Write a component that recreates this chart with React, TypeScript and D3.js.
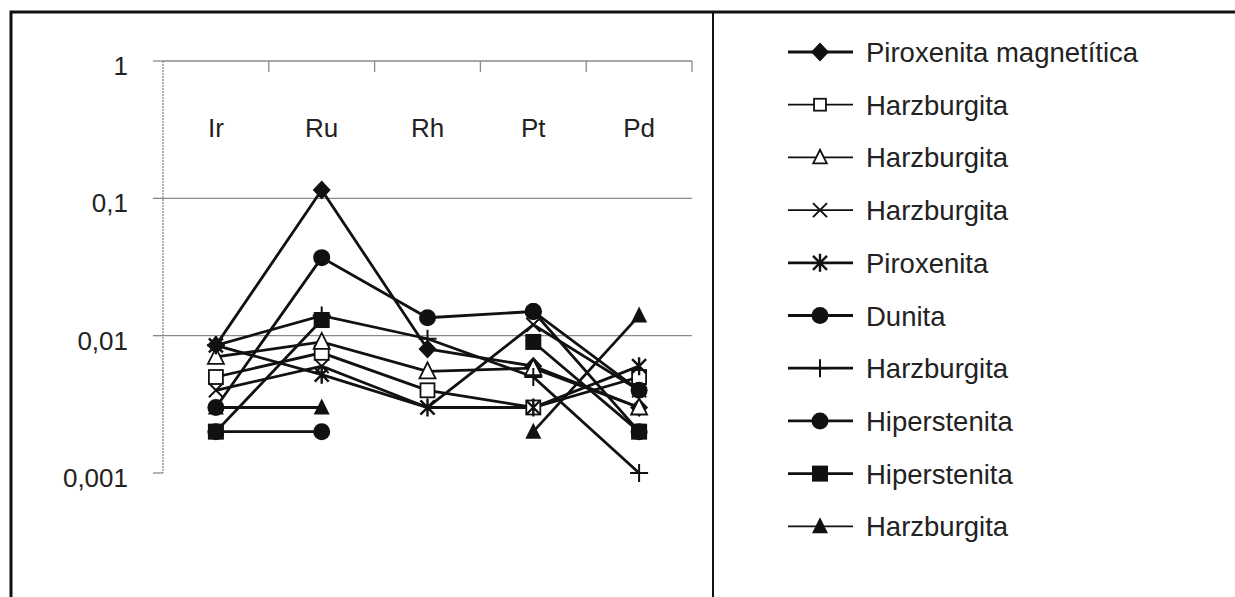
import React, { useEffect, useRef } from "react";
import * as d3 from "d3";

const elements = ["Ir", "Ru", "Rh", "Pt", "Pd"];
const yTicks = [1, 0.1, 0.01, 0.001];
const yTickLabels = ["1", "0,1", "0,01", "0,001"];

const seriesNames = [
  "Piroxenita magnetítica",
  "Harzburgita",
  "Harzburgita",
  "Harzburgita",
  "Piroxenita",
  "Dunita",
  "Harzburgita",
  "Hiperstenita",
  "Hiperstenita",
  "Harzburgita",
];
const markerKinds = ["diamond", "openSquare", "openTriangle", "times", "asterisk", "circle", "plus", "circle", "square", "triangle"];

// values per series in order Ir, Ru, Rh, Pt, Pd (null = no data)
const piroxenitaMag = [0.0085, 0.115, 0.008, 0.006, 0.003];
const harzSquare = [0.005, 0.0075, 0.004, 0.003, 0.005];
const harzTriangle = [0.007, 0.009, 0.0055, 0.0058, 0.003];
const harzTimes = [0.004, 0.006, 0.003, 0.012, 0.004];
const piroxenita = [0.0085, 0.0052, 0.003, 0.003, 0.006];
const dunita = [0.003, 0.037, 0.0135, 0.015, 0.004];
const harzPlus = [0.0085, 0.014, 0.0095, 0.005, 0.001];
const hiperCircle = [0.002, 0.002, null, 0.015, 0.002];
const hiperSquare = [0.002, 0.013, null, 0.009, 0.002];
const harzFilledTri = [0.003, 0.003, null, 0.002, 0.014];

const seriesValues = [piroxenitaMag, harzSquare, harzTriangle, harzTimes, piroxenita, dunita, harzPlus, hiperCircle, hiperSquare, harzFilledTri];

function drawMarker(g, kind, x, y, small) {
  const ink = "#111";
  const k = small ? 0.85 : 1;
  if (kind === "diamond") {
    g.append("path").attr("d", `M${x},${y - 9.5}L${x + 9},${y}L${x},${y + 9.5}L${x - 9},${y}Z`).attr("fill", ink);
  } else if (kind === "square" || kind === "openSquare") {
    const h = kind === "square" ? 8 : 7 * k;
    g.append("rect").attr("x", x - h).attr("y", y - h).attr("width", 2 * h).attr("height", 2 * h)
      .attr("fill", kind === "square" ? ink : "#fff").attr("stroke", ink).attr("stroke-width", kind === "square" ? 0 : 1.8);
  } else if (kind === "triangle" || kind === "openTriangle") {
    const s = kind === "triangle" ? 1 : k;
    g.append("path").attr("d", `M${x},${y - 9 * s}L${x + 8 * s},${y + 7 * s}L${x - 8 * s},${y + 7 * s}Z`)
      .attr("fill", kind === "triangle" ? ink : "#fff").attr("stroke", ink).attr("stroke-width", kind === "triangle" ? 0 : 1.8);
  } else if (kind === "circle") {
    g.append("circle").attr("cx", x).attr("cy", y).attr("r", 8.5).attr("fill", ink);
  } else if (kind === "times") {
    g.append("path").attr("d", `M${x - 7},${y - 7}L${x + 7},${y + 7}M${x + 7},${y - 7}L${x - 7},${y + 7}`)
      .attr("stroke", ink).attr("stroke-width", 2);
  } else if (kind === "asterisk") {
    g.append("path").attr("d", `M${x - 7},${y - 7}L${x + 7},${y + 7}M${x + 7},${y - 7}L${x - 7},${y + 7}M${x},${y - 9}L${x},${y + 9}`)
      .attr("stroke", ink).attr("stroke-width", 2.4);
  } else if (kind === "plus") {
    g.append("path").attr("d", `M${x - 9},${y}L${x + 9},${y}M${x},${y - 9}L${x},${y + 9}`)
      .attr("stroke", ink).attr("stroke-width", 2);
  }
}

export default function App() {
  const ref = useRef(null);

  useEffect(() => {
    const svg = d3.select(ref.current);
    svg.selectAll("*").remove();

    const plot = { left: 163, right: 692, top: 61, bottom: 473 };
    const font = "Arial, 'Liberation Sans', sans-serif";
    const textColor = "#222";

    // frame
    svg.append("path").attr("d", "M11,600V12H1240").attr("fill", "none").attr("stroke", "#111").attr("stroke-width", 3);
    svg.append("line").attr("x1", 713).attr("x2", 713).attr("y1", 12).attr("y2", 600).attr("stroke", "#111").attr("stroke-width", 2);

    const x = d3.scaleBand().domain(elements).range([plot.left, plot.right]);
    const y = d3.scaleLog().domain([0.001, 1]).range([plot.bottom, plot.top]);

    const g = svg.append("g");

    // gridlines
    [0.1, 0.01].forEach((v) => {
      g.append("line").attr("x1", plot.left).attr("x2", plot.right).attr("y1", y(v)).attr("y2", y(v))
        .attr("stroke", "#8a8a8a").attr("stroke-width", 1.3);
    });

    // category axis at top (value 1)
    g.append("line").attr("x1", plot.left).attr("x2", plot.right).attr("y1", y(1)).attr("y2", y(1))
      .attr("stroke", "#8a8a8a").attr("stroke-width", 1.3);
    elements.forEach((e, i) => {
      if (i > 0) {
        const bx = x(e);
        g.append("line").attr("x1", bx).attr("x2", bx).attr("y1", y(1)).attr("y2", y(1) + 11)
          .attr("stroke", "#8a8a8a").attr("stroke-width", 1.3);
      }
      g.append("text").attr("x", x(e) + x.bandwidth() / 2).attr("y", 137).attr("text-anchor", "middle")
        .attr("font-family", font).attr("font-size", 26).attr("fill", textColor).text(e);
    });
    g.append("line").attr("x1", plot.right).attr("x2", plot.right).attr("y1", y(1)).attr("y2", y(1) + 11)
      .attr("stroke", "#8a8a8a").attr("stroke-width", 1.3);

    // value axis
    g.append("line").attr("x1", plot.left).attr("x2", plot.left).attr("y1", plot.top).attr("y2", plot.bottom)
      .attr("stroke", "#8a8a8a").attr("stroke-width", 1.3).attr("stroke-dasharray", "2,1");
    yTicks.forEach((v, i) => {
      g.append("line").attr("x1", plot.left - 10).attr("x2", plot.left).attr("y1", y(v)).attr("y2", y(v))
        .attr("stroke", "#8a8a8a").attr("stroke-width", 1.3);
      g.append("text").attr("x", 128).attr("y", y(v) + 14).attr("text-anchor", "end")
        .attr("font-family", font).attr("font-size", 26).attr("fill", textColor).text(yTickLabels[i]);
    });

    // series
    const line = d3.line()
      .defined((d) => d != null)
      .x((d, i) => x(elements[i]) + x.bandwidth() / 2)
      .y((d) => y(d));

    seriesValues.forEach((vals) => {
      g.append("path").attr("d", line(vals)).attr("fill", "none").attr("stroke", "#111").attr("stroke-width", 2.8);
    });
    seriesValues.forEach((vals, s) => {
      vals.forEach((v, i) => {
        if (v == null) return;
        drawMarker(g, markerKinds[s], x(elements[i]) + x.bandwidth() / 2, y(v), false);
      });
    });

    // legend
    const legend = svg.append("g");
    seriesNames.forEach((name, i) => {
      const ly = 52 + i * 52.7;
      const thin = markerKinds[i].startsWith("open") || markerKinds[i] === "times" || markerKinds[i] === "triangle";
      legend.append("line").attr("x1", 788).attr("x2", 853).attr("y1", ly).attr("y2", ly)
        .attr("stroke", "#111").attr("stroke-width", thin ? 1.8 : 2.8);
      drawMarker(legend, markerKinds[i], 820, ly, true);
      legend.append("text").attr("x", 866).attr("y", ly + 10).attr("font-family", font).attr("font-size", 27.5)
        .attr("fill", textColor).text(name);
    });
  }, []);

  return (
    <svg ref={ref} width={1235} height={597} style={{ position: "absolute", left: 0, top: 0, background: "#fff" }} />
  );
}
